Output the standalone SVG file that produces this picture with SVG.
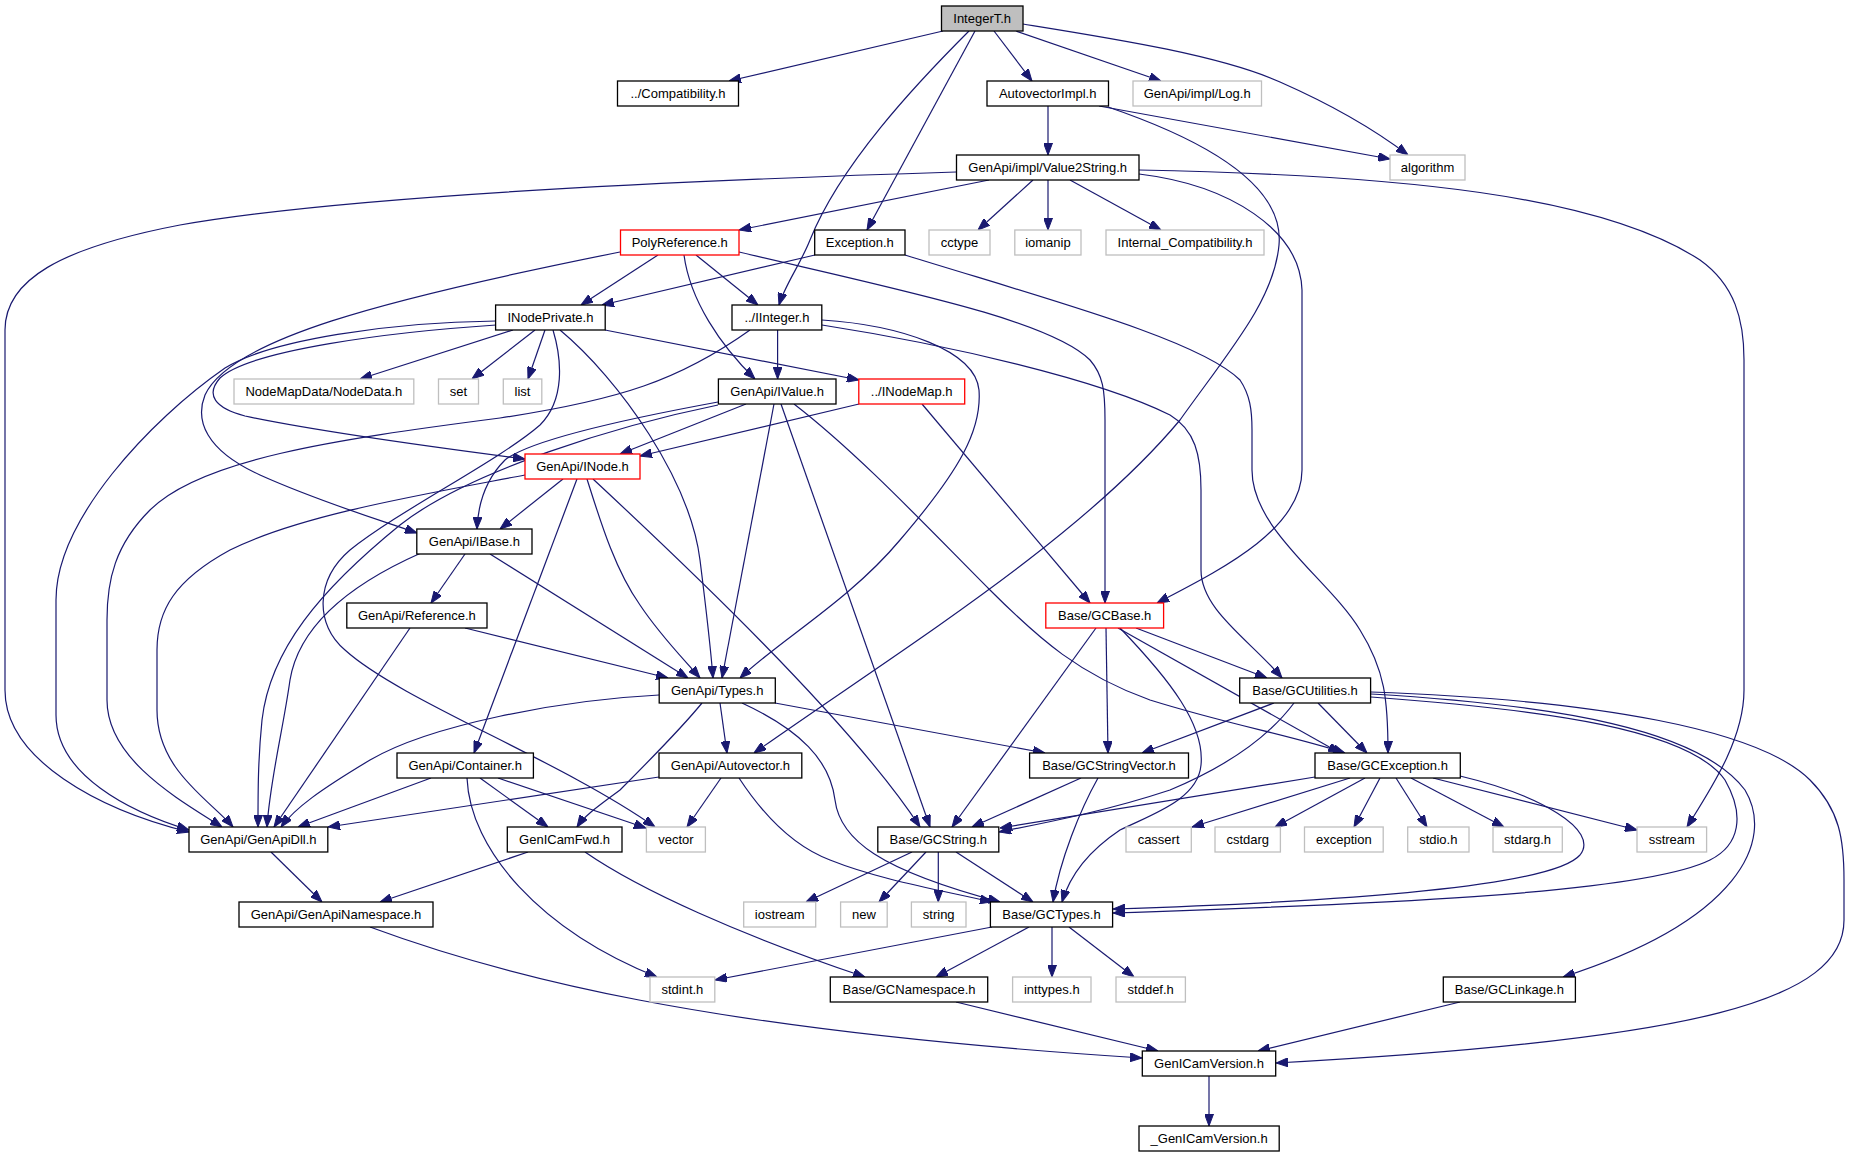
<svg xmlns="http://www.w3.org/2000/svg" width="1851" height="1157" viewBox="0 0 1851 1157">
<style>
.n rect{fill:#ffffff;stroke:#000000;stroke-width:1.3}
.n.g rect{stroke:#bfbfbf}
.n.r rect{stroke:#ff0000}
.n.root rect{fill:#bfbfbf}
.n text{font-family:"Liberation Sans",Arial,sans-serif;font-size:13px;text-anchor:middle;fill:#000000}
.e path{fill:none;stroke:#191970;stroke-width:1.2;marker-end:url(#a)}
</style>
<defs>
<marker id="a" markerWidth="12" markerHeight="9" refX="12" refY="4.5" orient="auto" markerUnits="userSpaceOnUse">
<path d="M0,0 L12,4.5 L0,9 z" fill="#191970" stroke="#191970" stroke-width="1"/>
</marker>
</defs>
<rect x="0" y="0" width="1851" height="1157" fill="#ffffff"/>
<g id="connectors" class="e">
<path d="M943,31 L729,81"/>
<path d="M969,31 C915,85 840,165 810,240 C800,265 785,285 779,305"/>
<path d="M975,31 L867,230"/>
<path d="M994,31 L1032,81"/>
<path d="M1016,31 L1161,81"/>
<path d="M1023,24 C1110,38 1220,55 1280,82 C1330,104 1375,130 1408,155"/>
<path d="M1048,106 L1048,155"/>
<path d="M1099,106 L1390,159"/>
<path d="M1108,107 C1190,135 1285,180 1279,245 C1274,300 1230,350 1180,420 C1080,540 900,650 754,753"/>
<path d="M956,172 C700,180 350,195 180,225 C60,248 5,280 5,330 L5,690 C5,760 100,810 189,832"/>
<path d="M989,180 L739,230"/>
<path d="M1033,180 L978,230"/>
<path d="M1048,180 L1048,230"/>
<path d="M1070,180 L1161,230"/>
<path d="M1139,174 C1230,185 1300,230 1302,290 L1302,470 C1302,530 1220,570 1157,603"/>
<path d="M1139,170 C1400,175 1600,195 1700,260 C1735,285 1744,320 1744,360 L1744,690 C1744,740 1710,790 1687,827"/>
<path d="M658,255 L581,305"/>
<path d="M696,255 L758,305"/>
<path d="M684,255 C690,300 720,345 755,379"/>
<path d="M739,252 C900,290 1050,320 1090,360 C1103,375 1105,390 1105,420 L1105,603"/>
<path d="M620,252 C380,300 230,340 205,395 C195,420 205,450 260,475 C320,502 380,520 417,533"/>
<path d="M815,255 L602,305"/>
<path d="M905,255 C1050,300 1200,340 1240,380 C1250,395 1252,410 1252,430 L1252,470 C1252,530 1330,580 1360,630 C1385,670 1388,700 1388,753"/>
<path d="M513,330 L360,379"/>
<path d="M535,330 L472,379"/>
<path d="M545,330 L528,379"/>
<path d="M560,330 C620,380 690,480 700,560 C705,600 710,640 713,678"/>
<path d="M496,321 C390,322 270,340 225,368 C150,420 56,520 56,600 L56,715 C56,775 130,812 189,830"/>
<path d="M496,325 C390,332 250,350 220,378 C205,395 215,408 245,416 C320,432 440,448 525,459"/>
<path d="M605,330 L859,380"/>
<path d="M553,330 C562,360 565,400 540,425 C500,460 400,510 350,550 C315,580 315,625 345,650 C400,700 560,760 655,827"/>
<path d="M777.6,330 L777.6,379"/>
<path d="M750,330 C680,380 620,400 500,418 C330,440 200,460 150,510 C115,545 107,580 107,620 L107,700 C107,760 180,800 222,827"/>
<path d="M822,320 C900,325 975,350 979,390 C982,430 960,470 900,540 C850,600 780,640 740,678"/>
<path d="M822,325 C950,345 1100,380 1170,415 C1195,430 1201,455 1201,490 L1201,570 C1201,610 1250,640 1282,678"/>
<path d="M746,404 L620,454"/>
<path d="M859,404 L640,456"/>
<path d="M718,402 C620,420 530,440 505,460 C485,480 478,505 477,529"/>
<path d="M718,405 C620,425 470,470 400,525 C320,590 270,650 262,720 C258,760 258,790 258,827"/>
<path d="M774,404 L722,678"/>
<path d="M781,404 L930,827"/>
<path d="M794,404 C860,455 930,530 990,590 C1040,640 1080,675 1150,700 C1230,725 1290,735 1345,753"/>
<path d="M922,404 L1090,603"/>
<path d="M563,479 L500,529"/>
<path d="M525,475 C420,495 300,515 230,550 C175,580 157,610 157,650 L157,710 C157,770 210,800 233,827"/>
<path d="M577,479 L474,753"/>
<path d="M587,479 C600,520 615,570 640,605 C660,635 680,655 700,678"/>
<path d="M593,479 C680,560 850,720 920,827"/>
<path d="M465,554 L431,603"/>
<path d="M490,554 L688,678"/>
<path d="M421,553 C360,580 300,620 290,680 C283,730 270,780 267,827"/>
<path d="M465,628 L668,678"/>
<path d="M410,628 L274,827"/>
<path d="M1096,628 L952,827"/>
<path d="M1106,628 L1108,753"/>
<path d="M1136,628 L1267,678"/>
<path d="M1118,628 L1340,753"/>
<path d="M1120,628 C1170,680 1205,725 1201,765 C1198,800 1150,815 1120,830 C1090,850 1070,875 1062,902"/>
<path d="M659,695 C560,700 430,725 370,760 C320,790 295,808 281,827"/>
<path d="M720,703 L727,753"/>
<path d="M702,703 C680,730 640,770 620,790 C600,805 585,815 577,827"/>
<path d="M742,703 C800,730 830,760 835,800 C840,840 880,870 1000,902"/>
<path d="M775,703 L1045,753"/>
<path d="M1274,703 L1142,753"/>
<path d="M1318,703 L1367,753"/>
<path d="M1294,703 C1270,735 1230,765 1170,790 C1110,810 1050,822 999,832"/>
<path d="M1371,697 C1550,710 1690,730 1725,780 C1745,815 1740,845 1710,860 C1640,895 1350,905 1113,913"/>
<path d="M1371,694 C1560,705 1700,730 1745,790 C1775,840 1740,920 1563,977"/>
<path d="M1371,692 C1600,700 1760,730 1810,780 C1840,810 1844,840 1844,880 L1844,920 C1844,1000 1700,1040 1276,1063"/>
<path d="M1081,778 L972,827"/>
<path d="M1098,778 C1080,810 1060,860 1053,902"/>
<path d="M1315,777 L1000,828"/>
<path d="M1350,778 L1192,827"/>
<path d="M1365,778 L1275,827"/>
<path d="M1380,778 L1354,827"/>
<path d="M1396,778 L1427,827"/>
<path d="M1411,778 L1504,827"/>
<path d="M1433,778 L1637,830"/>
<path d="M1460,776 C1540,795 1600,830 1580,855 C1550,890 1300,903 1113,909"/>
<path d="M271,852 L322,902"/>
<path d="M528,852 L380,902"/>
<path d="M585,852 C640,890 740,935 865,977"/>
<path d="M431,778 L298,827"/>
<path d="M480,778 L548,827"/>
<path d="M498,778 L646,828"/>
<path d="M467,778 C470,850 540,930 657,977"/>
<path d="M659,777 L328,827"/>
<path d="M721,778 L687,827"/>
<path d="M739,778 C760,810 790,845 830,860 C880,880 940,890 992,902"/>
<path d="M370,927 C500,975 700,1030 1142,1058"/>
<path d="M912,852 L806,902"/>
<path d="M926,852 L879,902"/>
<path d="M938.3,852 L938.3,902"/>
<path d="M956,852 L1033,902"/>
<path d="M992,927 L715,980"/>
<path d="M1029,927 L936,977"/>
<path d="M1052,927 L1052,977"/>
<path d="M1069,927 L1134,977"/>
<path d="M956,1002 L1158,1051"/>
<path d="M1460,1002 L1258,1051"/>
<path d="M1209,1076 L1209,1126"/>
</g>
<g id="n_IntegerT" class="n root"><rect x="941.5" y="6" width="81.5" height="25"/><text x="982.2" y="23">IntegerT.h</text></g>
<g id="n_Compatibility" class="n"><rect x="617.5" y="81" width="121" height="25"/><text x="678" y="98">../Compatibility.h</text></g>
<g id="n_AutovectorImpl" class="n"><rect x="987" y="81" width="121.5" height="25"/><text x="1047.7" y="98">AutovectorImpl.h</text></g>
<g id="n_Log" class="n g"><rect x="1133" y="81" width="128.5" height="25"/><text x="1197.2" y="98">GenApi/impl/Log.h</text></g>
<g id="n_algorithm" class="n g"><rect x="1390" y="155" width="75" height="25"/><text x="1427.5" y="172">algorithm</text></g>
<g id="n_Value2String" class="n"><rect x="956.5" y="155" width="182.5" height="25"/><text x="1047.7" y="172">GenApi/impl/Value2String.h</text></g>
<g id="n_PolyReference" class="n r"><rect x="620.5" y="230" width="118.5" height="25"/><text x="679.7" y="247">PolyReference.h</text></g>
<g id="n_Exception" class="n"><rect x="814.7" y="230" width="90.3" height="25"/><text x="859.8" y="247">Exception.h</text></g>
<g id="n_cctype" class="n g"><rect x="929" y="230" width="61" height="25"/><text x="959.5" y="247">cctype</text></g>
<g id="n_iomanip" class="n g"><rect x="1014.8" y="230" width="66.2" height="25"/><text x="1047.9" y="247">iomanip</text></g>
<g id="n_InternalCompat" class="n g"><rect x="1106" y="230" width="158" height="25"/><text x="1185" y="247">Internal_Compatibility.h</text></g>
<g id="n_INodePrivate" class="n"><rect x="495.6" y="305" width="109.6" height="25"/><text x="550.4" y="322">INodePrivate.h</text></g>
<g id="n_IInteger" class="n"><rect x="732" y="305" width="89.8" height="25"/><text x="776.9" y="322">../IInteger.h</text></g>
<g id="n_NodeData" class="n g"><rect x="234" y="379" width="179.8" height="25"/><text x="323.9" y="396">NodeMapData/NodeData.h</text></g>
<g id="n_set" class="n g"><rect x="438.5" y="379" width="40" height="25"/><text x="458.5" y="396">set</text></g>
<g id="n_list" class="n g"><rect x="503.3" y="379" width="38.5" height="25"/><text x="522.5" y="396">list</text></g>
<g id="n_IValue" class="n"><rect x="718.4" y="379" width="117.6" height="25"/><text x="777.2" y="396">GenApi/IValue.h</text></g>
<g id="n_INodeMap" class="n r"><rect x="858.8" y="379" width="105.9" height="25"/><text x="911.7" y="396">../INodeMap.h</text></g>
<g id="n_INode" class="n r"><rect x="525" y="454" width="115" height="25"/><text x="582.5" y="471">GenApi/INode.h</text></g>
<g id="n_IBase" class="n"><rect x="416.8" y="529" width="115.2" height="25"/><text x="474.4" y="546">GenApi/IBase.h</text></g>
<g id="n_Reference" class="n"><rect x="346.8" y="603" width="140.2" height="25"/><text x="416.9" y="620">GenApi/Reference.h</text></g>
<g id="n_GCBase" class="n r"><rect x="1045.8" y="603" width="117.8" height="25"/><text x="1104.7" y="620">Base/GCBase.h</text></g>
<g id="n_Types" class="n"><rect x="659.2" y="678" width="116.1" height="25"/><text x="717.2" y="695">GenApi/Types.h</text></g>
<g id="n_GCUtilities" class="n"><rect x="1239.7" y="678" width="130.9" height="25"/><text x="1305.1" y="695">Base/GCUtilities.h</text></g>
<g id="n_Container" class="n"><rect x="397" y="753" width="136.4" height="25"/><text x="465.2" y="770">GenApi/Container.h</text></g>
<g id="n_Autovector" class="n"><rect x="659" y="753" width="142.8" height="25"/><text x="730.4" y="770">GenApi/Autovector.h</text></g>
<g id="n_GCStringVector" class="n"><rect x="1029.6" y="753" width="158.9" height="25"/><text x="1109" y="770">Base/GCStringVector.h</text></g>
<g id="n_GCException" class="n"><rect x="1315" y="753" width="145.3" height="25"/><text x="1387.6" y="770">Base/GCException.h</text></g>
<g id="n_GenApiDll" class="n"><rect x="189" y="827" width="138.8" height="25"/><text x="258.4" y="844">GenApi/GenApiDll.h</text></g>
<g id="n_GenICamFwd" class="n"><rect x="507.3" y="827" width="114.7" height="25"/><text x="564.6" y="844">GenICamFwd.h</text></g>
<g id="n_vector" class="n g"><rect x="646.4" y="827" width="59" height="25"/><text x="675.9" y="844">vector</text></g>
<g id="n_GCString" class="n"><rect x="877.8" y="827" width="121" height="25"/><text x="938.3" y="844">Base/GCString.h</text></g>
<g id="n_cassert" class="n g"><rect x="1126" y="827" width="65.3" height="25"/><text x="1158.6" y="844">cassert</text></g>
<g id="n_cstdarg" class="n g"><rect x="1215" y="827" width="65.4" height="25"/><text x="1247.7" y="844">cstdarg</text></g>
<g id="n_exception" class="n g"><rect x="1304.5" y="827" width="78.7" height="25"/><text x="1343.8" y="844">exception</text></g>
<g id="n_stdio" class="n g"><rect x="1407.7" y="827" width="61.3" height="25"/><text x="1438.3" y="844">stdio.h</text></g>
<g id="n_stdarg" class="n g"><rect x="1493" y="827" width="69.3" height="25"/><text x="1527.6" y="844">stdarg.h</text></g>
<g id="n_sstream" class="n g"><rect x="1637" y="827" width="69.6" height="25"/><text x="1671.8" y="844">sstream</text></g>
<g id="n_GenApiNamespace" class="n"><rect x="239" y="902" width="194" height="25"/><text x="336" y="919">GenApi/GenApiNamespace.h</text></g>
<g id="n_iostream" class="n g"><rect x="743.7" y="902" width="72" height="25"/><text x="779.7" y="919">iostream</text></g>
<g id="n_new" class="n g"><rect x="840.6" y="902" width="46.6" height="25"/><text x="863.9" y="919">new</text></g>
<g id="n_string" class="n g"><rect x="911.4" y="902" width="54.6" height="25"/><text x="938.7" y="919">string</text></g>
<g id="n_GCTypes" class="n"><rect x="990.4" y="902" width="122.2" height="25"/><text x="1051.5" y="919">Base/GCTypes.h</text></g>
<g id="n_stdint" class="n g"><rect x="650" y="977" width="64.8" height="25"/><text x="682.4" y="994">stdint.h</text></g>
<g id="n_GCNamespace" class="n"><rect x="830.3" y="977" width="157.4" height="25"/><text x="909" y="994">Base/GCNamespace.h</text></g>
<g id="n_inttypes" class="n g"><rect x="1012.6" y="977" width="78.4" height="25"/><text x="1051.8" y="994">inttypes.h</text></g>
<g id="n_stddef" class="n g"><rect x="1116" y="977" width="69.4" height="25"/><text x="1150.7" y="994">stddef.h</text></g>
<g id="n_GCLinkage" class="n"><rect x="1443.3" y="977" width="132.1" height="25"/><text x="1509.4" y="994">Base/GCLinkage.h</text></g>
<g id="n_GenICamVersion" class="n"><rect x="1142.3" y="1051" width="133.4" height="25"/><text x="1209" y="1068">GenICamVersion.h</text></g>
<g id="n__GenICamVersion" class="n"><rect x="1139" y="1126" width="140.2" height="25"/><text x="1209.1" y="1143">_GenICamVersion.h</text></g>
</svg>
